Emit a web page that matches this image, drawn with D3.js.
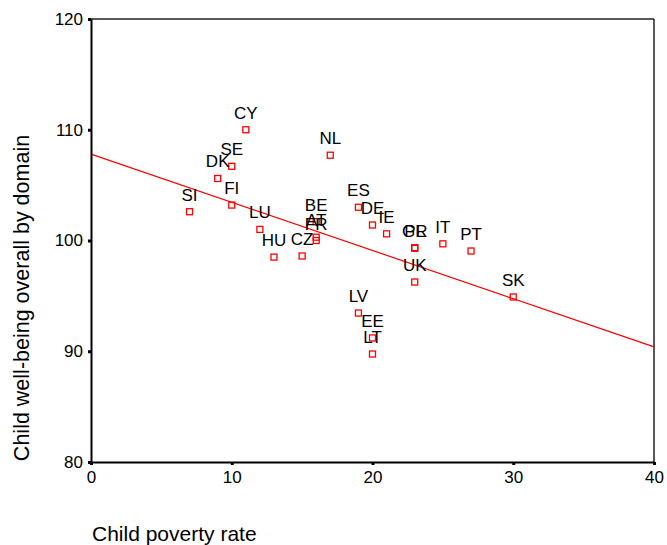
<!DOCTYPE html>
<html>
<head>
<meta charset="utf-8">
<script src="https://cdn.jsdelivr.net/npm/d3@7"></script>
<style>
  html, body { margin: 0; padding: 0; background: #fff; }
  svg { display: block; }
  text { font-family: "Liberation Sans", Arial, sans-serif; fill: #000; }
</style>
</head>
<body>
<svg id="chart" width="667" height="545"></svg>
<script>
const countries = ["SI","CY","SE","DK","FI","LU","HU","CZ","BE","AT","FR","NL","ES","DE","IE","GR","PL","IT","PT","UK","SK","LV","EE","LT"];
const poverty   = [7, 11, 10, 9, 10, 12, 13, 15, 16, 16, 16, 17, 19, 20, 21, 23, 23, 25, 27, 23, 30, 19, 20, 20];
const wellbeing = [102.6, 110.0, 106.7, 105.6, 103.2, 101.0, 98.5, 98.6, 101.7, 100.3, 100.0, 107.7, 103.0, 101.4, 100.6, 99.3, 99.35, 99.7, 99.05, 96.25, 94.9, 93.45, 91.2, 89.75];
const fitX = [0, 40];
const fitY = [107.8, 90.4];
const xTicks = [0, 10, 20, 30, 40];
const yTicks = [80, 90, 100, 110, 120];

const svg = d3.select("#chart");
const x = d3.scaleLinear().domain([0, 40]).range([91, 654]);
const y = d3.scaleLinear().domain([80, 120]).range([462, 19]);

// frame top & right
svg.append("line").attr("x1", x(0)).attr("x2", x(40)).attr("y1", y(120)).attr("y2", y(120))
  .attr("stroke", "#222").attr("stroke-width", 1.5);
svg.append("line").attr("x1", x(40)).attr("x2", x(40)).attr("y1", y(120)).attr("y2", y(80))
  .attr("stroke", "#222").attr("stroke-width", 1.5);

// regression line
svg.append("line")
  .attr("x1", x(fitX[0])).attr("y1", y(fitY[0]))
  .attr("x2", x(fitX[1])).attr("y2", y(fitY[1]))
  .attr("stroke", "#ff0000").attr("stroke-width", 1.2);

// axes
const xAxis = svg.append("g").attr("transform", `translate(0,${y(80)})`)
  .call(d3.axisBottom(x).tickValues(xTicks).tickSize(3).tickPadding(6).tickSizeOuter(0));
const yAxis = svg.append("g").attr("transform", `translate(${x(0)},0)`)
  .call(d3.axisLeft(y).tickValues(yTicks).tickSize(3).tickPadding(5).tickSizeOuter(0));
[xAxis, yAxis].forEach(g => {
  g.select(".domain").attr("stroke", "#000").attr("stroke-width", 2);
  g.selectAll(".tick line").attr("stroke", "#000").attr("stroke-width", 3);
  g.selectAll(".tick text").style("font-size", "17px").style("font-family", "Liberation Sans, Arial, sans-serif").attr("fill", "#000");
});

// points
const data = countries.map((c, i) => ({ c, px: poverty[i], wb: wellbeing[i] }));
svg.append("g").selectAll("rect").data(data).enter().append("rect")
  .attr("x", d => x(d.px) - 3).attr("y", d => y(d.wb) - 3)
  .attr("width", 6).attr("height", 6)
  .attr("fill", "none").attr("stroke", "#ff0000").attr("stroke-width", 1.3);

svg.append("g").selectAll("text").data(data).enter().append("text")
  .attr("x", d => x(d.px)).attr("y", d => y(d.wb) - 11)
  .attr("text-anchor", "middle").style("font-size", "17px")
  .text(d => d.c);

// axis titles
svg.append("text").attr("x", 92).attr("y", 541).style("font-size", "21px").text("Child poverty rate");
svg.append("text").attr("transform", "translate(29,298) rotate(-90)")
  .attr("text-anchor", "middle").style("font-size", "21.5px")
  .text("Child well-being overall by domain");
</script>
</body>
</html>
